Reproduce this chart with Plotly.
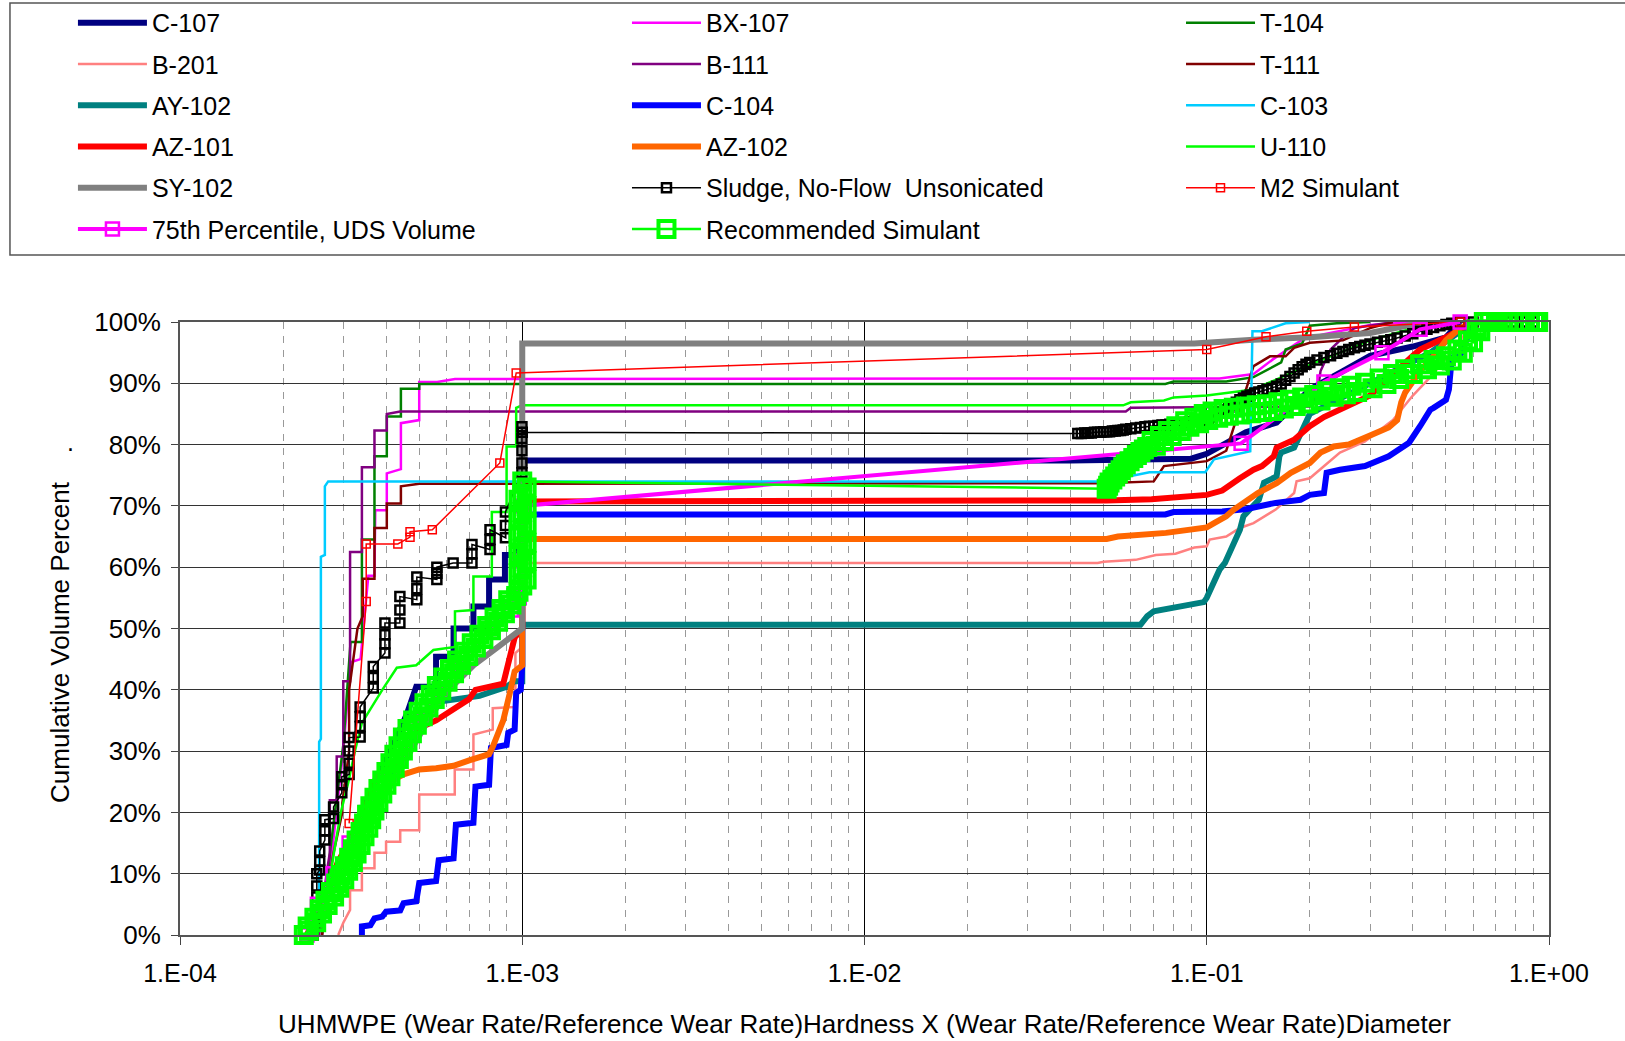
import plotly.graph_objects as go

# ---------------- data (x = wear-rate product, y = cumulative volume fraction) ----------------
C107_x = [2.4e-4, 2.7e-4, 3.0e-4, 3.4e-4, 3.8e-4, 4.2e-4, 4.6e-4, 4.9e-4, 5.6e-4, 5.6e-4, 6.3e-4, 6.3e-4, 7.2e-4, 7.2e-4, 8.0e-4, 8.0e-4, 8.9e-4, 8.9e-4, 9.6e-4, 1.0e-3, 1.0e-3, 0.04, 0.09, 0.1, 0.114, 0.13, 0.16, 0.2, 0.25, 0.3, 0.4, 0.5, 0.55]
C107_y = [0.0, 0.07, 0.13, 0.2, 0.26, 0.31, 0.36, 0.405, 0.405, 0.454, 0.454, 0.5, 0.5, 0.536, 0.536, 0.58, 0.58, 0.62, 0.62, 0.65, 0.774, 0.774, 0.777, 0.785, 0.803, 0.82, 0.836, 0.89, 0.92, 0.945, 0.96, 0.975, 1.0]

BX107_x = [2.6e-4, 2.8e-4, 3.0e-4, 3.15e-4, 3.37e-4, 3.55e-4, 3.70e-4, 3.72e-4, 4.02e-4, 4.02e-4, 4.42e-4, 4.42e-4, 5.0e-4, 5.0e-4, 5.64e-4, 6.36e-4, 0.109, 0.12, 0.137, 0.156, 0.19, 0.22, 0.3, 0.4]
BX107_y = [0.0, 0.15, 0.30, 0.445, 0.45, 0.586, 0.586, 0.693, 0.693, 0.753, 0.76, 0.835, 0.84, 0.902, 0.902, 0.907, 0.908, 0.911, 0.915, 0.939, 0.971, 0.98, 0.995, 1.0]

T104_x = [2.6e-4, 2.75e-4, 3.0e-4, 3.15e-4, 3.40e-4, 3.40e-4, 3.70e-4, 3.70e-4, 4.02e-4, 4.02e-4, 4.42e-4, 4.42e-4, 5.0e-4, 5.0e-4, 0.0757, 0.08, 0.114, 0.137, 0.165, 0.17, 0.19, 0.2, 0.24, 0.3]
T104_y = [0.0, 0.14, 0.31, 0.478, 0.478, 0.645, 0.645, 0.781, 0.781, 0.846, 0.846, 0.891, 0.891, 0.899, 0.899, 0.903, 0.903, 0.91, 0.934, 0.955, 0.965, 0.994, 0.998, 1.0]

B201_x = [2.9e-4, 3.0e-4, 3.14e-4, 3.14e-4, 3.4e-4, 3.4e-4, 3.7e-4, 3.7e-4, 4.0e-4, 4.0e-4, 4.4e-4, 4.4e-4, 5.0e-4, 5.0e-4, 6.35e-4, 6.35e-4, 7.2e-4, 7.2e-4, 8.2e-4, 8.2e-4, 9.55e-4, 9.55e-4, 1.0e-3, 1.0e-3, 0.048, 0.05, 0.062, 0.071, 0.081, 0.092, 0.1, 0.102, 0.114, 0.125, 0.137, 0.147, 0.159, 0.18, 0.183, 0.2, 0.22, 0.245, 0.29, 0.35, 0.4, 0.45, 0.5, 0.55, 0.6]
B201_y = [0.0, 0.02, 0.041, 0.073, 0.073, 0.109, 0.109, 0.134, 0.134, 0.152, 0.152, 0.171, 0.171, 0.229, 0.229, 0.27, 0.27, 0.327, 0.335, 0.37, 0.372, 0.46, 0.47, 0.607, 0.607, 0.609, 0.612, 0.62, 0.622, 0.632, 0.634, 0.645, 0.65, 0.664, 0.672, 0.683, 0.694, 0.721, 0.74, 0.745, 0.764, 0.787, 0.805, 0.84, 0.88, 0.91, 0.94, 0.97, 1.0]

B111_x = [2.55e-4, 2.68e-4, 2.74e-4, 2.74e-4, 2.87e-4, 2.87e-4, 3.0e-4, 3.0e-4, 3.14e-4, 3.14e-4, 3.40e-4, 3.40e-4, 3.70e-4, 3.70e-4, 4.02e-4, 4.02e-4, 4.4e-4, 0.058, 0.06, 0.2, 0.21, 0.215, 0.23, 0.25, 0.27, 0.35]
B111_y = [0.0, 0.10, 0.134, 0.22, 0.22, 0.291, 0.291, 0.414, 0.414, 0.625, 0.625, 0.763, 0.763, 0.823, 0.823, 0.85, 0.854, 0.854, 0.86, 0.862, 0.88, 0.92, 0.955, 0.975, 0.99, 1.0]

T111_x = [2.6e-4, 2.8e-4, 2.98e-4, 2.98e-4, 3.12e-4, 3.12e-4, 3.3e-4, 3.42e-4, 3.42e-4, 3.70e-4, 3.70e-4, 4.02e-4, 4.02e-4, 4.42e-4, 4.42e-4, 5.0e-4, 0.05, 0.07, 0.075, 0.1, 0.114, 0.125, 0.137, 0.153, 0.17, 0.18, 0.2, 0.25, 0.3, 0.35]
T111_y = [0.0, 0.13, 0.20, 0.215, 0.30, 0.40, 0.50, 0.52, 0.581, 0.581, 0.664, 0.664, 0.704, 0.704, 0.732, 0.736, 0.737, 0.74, 0.765, 0.773, 0.79, 0.86, 0.928, 0.944, 0.944, 0.958, 0.966, 0.97, 0.99, 1.0]

AY102_x = [2.4e-4, 2.6e-4, 2.9e-4, 3.25e-4, 3.65e-4, 4.1e-4, 4.6e-4, 5.1e-4, 5.6e-4, 6.6e-4, 7.5e-4, 9.0e-4, 9.5e-4, 1.0e-3, 1.0e-3, 0.064, 0.067, 0.07, 0.084, 0.098, 0.1, 0.109, 0.113, 0.125, 0.128, 0.137, 0.142, 0.147, 0.16, 0.163, 0.165, 0.18, 0.2, 0.3, 0.45, 0.6]
AY102_y = [0.0, 0.05, 0.1, 0.15, 0.2, 0.25, 0.3, 0.35, 0.38, 0.385, 0.39, 0.405, 0.414, 0.414, 0.506, 0.506, 0.52, 0.528, 0.536, 0.543, 0.55, 0.596, 0.607, 0.661, 0.683, 0.699, 0.71, 0.738, 0.748, 0.781, 0.787, 0.795, 0.85, 0.9, 0.95, 1.0]

C104_x = [3.4e-4, 3.4e-4, 3.6e-4, 3.7e-4, 3.9e-4, 4.0e-4, 4.4e-4, 4.5e-4, 4.9e-4, 5.0e-4, 5.6e-4, 5.7e-4, 6.3e-4, 6.4e-4, 7.2e-4, 7.3e-4, 8.0e-4, 8.1e-4, 9.0e-4, 9.1e-4, 9.5e-4, 9.6e-4, 9.9e-4, 1.0e-3, 1.0e-3, 0.0757, 0.08, 0.111, 0.131, 0.159, 0.188, 0.2, 0.22, 0.224, 0.245, 0.29, 0.34, 0.39, 0.42, 0.45, 0.46, 0.5, 0.51, 0.52, 0.52, 0.55, 0.56, 0.6]
C104_y = [0.0, 0.014, 0.016, 0.027, 0.03, 0.038, 0.04, 0.052, 0.055, 0.085, 0.088, 0.122, 0.125, 0.18, 0.183, 0.242, 0.245, 0.305, 0.31, 0.33, 0.335, 0.395, 0.40, 0.44, 0.686, 0.686, 0.69, 0.691, 0.695, 0.705, 0.71, 0.718, 0.721, 0.754, 0.759, 0.765, 0.781, 0.803, 0.83, 0.857, 0.86, 0.873, 0.89, 0.928, 0.942, 0.945, 0.955, 1.0]

C103_x = [2.52e-4, 2.55e-4, 2.55e-4, 2.58e-4, 2.58e-4, 2.65e-4, 2.65e-4, 2.71e-4, 0.05, 0.068, 0.099, 0.105, 0.134, 0.136, 0.145, 0.17, 0.2]
C103_y = [0.0, 0.05, 0.315, 0.32, 0.617, 0.62, 0.732, 0.74, 0.74, 0.755, 0.755, 0.776, 0.789, 0.985, 0.985, 0.998, 1.0]

AZ101_x = [2.35e-4, 2.6e-4, 2.9e-4, 3.35e-4, 3.4e-4, 3.75e-4, 4.0e-4, 4.45e-4, 4.5e-4, 4.9e-4, 5.6e-4, 6.3e-4, 7.0e-4, 7.3e-4, 8.8e-4, 9.5e-4, 1.0e-3, 1.0e-3, 0.049, 0.051, 0.069, 0.084, 0.1, 0.111, 0.12, 0.125, 0.137, 0.145, 0.157, 0.16, 0.18, 0.2, 0.22, 0.3, 0.4, 0.42, 0.5, 0.6]
AZ101_y = [0.0, 0.06, 0.12, 0.183, 0.193, 0.258, 0.27, 0.289, 0.313, 0.335, 0.35, 0.37, 0.385, 0.40, 0.41, 0.485, 0.50, 0.707, 0.707, 0.709, 0.711, 0.716, 0.718, 0.725, 0.74, 0.745, 0.759, 0.765, 0.781, 0.795, 0.808, 0.83, 0.845, 0.88, 0.945, 0.955, 0.975, 1.0]

AZ102_x = [2.45e-4, 2.8e-4, 3.2e-4, 3.6e-4, 3.95e-4, 4.1e-4, 4.5e-4, 5.0e-4, 5.6e-4, 6.3e-4, 7.0e-4, 8.0e-4, 8.2e-4, 8.8e-4, 9.2e-4, 9.5e-4, 1.0e-3, 1.0e-3, 0.051, 0.055, 0.076, 0.093, 0.1, 0.106, 0.114, 0.12, 0.128, 0.141, 0.16, 0.176, 0.2, 0.215, 0.235, 0.26, 0.3, 0.34, 0.36, 0.37, 0.38, 0.42, 0.47, 0.5, 0.55, 0.6]
AZ102_y = [0.0, 0.08, 0.15, 0.2, 0.225, 0.25, 0.262, 0.27, 0.272, 0.276, 0.285, 0.295, 0.307, 0.35, 0.395, 0.43, 0.44, 0.646, 0.646, 0.65, 0.656, 0.661, 0.665, 0.673, 0.683, 0.694, 0.705, 0.721, 0.737, 0.754, 0.77, 0.787, 0.797, 0.80, 0.815, 0.828, 0.84, 0.869, 0.885, 0.92, 0.95, 0.97, 0.99, 1.0]

U110_x = [2.5e-4, 2.75e-4, 2.95e-4, 3.1e-4, 3.25e-4, 3.4e-4, 3.9e-4, 4.3e-4, 4.9e-4, 5.5e-4, 6.36e-4, 6.36e-4, 7.2e-4, 7.2e-4, 8.15e-4, 8.15e-4, 9.0e-4, 9.0e-4, 9.6e-4, 9.6e-4, 1.0e-3, 0.057, 0.06, 0.075, 0.08, 0.1, 0.137, 0.2, 0.3, 0.4, 0.5]
U110_y = [0.0, 0.10, 0.2, 0.248, 0.302, 0.346, 0.40, 0.436, 0.44, 0.465, 0.47, 0.528, 0.53, 0.585, 0.585, 0.69, 0.69, 0.797, 0.797, 0.86, 0.864, 0.864, 0.869, 0.872, 0.877, 0.88, 0.89, 0.93, 0.97, 0.99, 1.0]

SY102_x = [2.45e-4, 2.65e-4, 2.95e-4, 3.3e-4, 3.7e-4, 4.2e-4, 4.7e-4, 5.3e-4, 6.1e-4, 7.2e-4, 8.5e-4, 9.5e-4, 1.0e-3, 1.0e-3, 0.092, 0.137, 0.2, 0.3, 0.4, 0.5]
SY102_y = [0.0, 0.05, 0.1, 0.15, 0.2, 0.25, 0.3, 0.35, 0.4, 0.44, 0.47, 0.49, 0.50, 0.965, 0.965, 0.971, 0.975, 0.982, 0.996, 1.0]

SLUDGE_x = [2.45e-4, 2.47e-4, 2.51e-4, 2.51e-4, 2.51e-4, 2.51e-4, 2.56e-4, 2.56e-4, 2.56e-4, 2.65e-4, 2.65e-4, 2.65e-4, 2.81e-4, 2.81e-4,
            2.97e-4, 2.97e-4, 2.97e-4, 3.12e-4, 3.12e-4, 3.12e-4, 3.12e-4, 3.36e-4, 3.36e-4, 3.36e-4, 3.36e-4, 3.67e-4, 3.67e-4, 3.67e-4,
            3.97e-4, 3.97e-4, 3.97e-4, 3.97e-4, 4.39e-4, 4.39e-4, 4.39e-4, 4.92e-4, 4.92e-4, 4.92e-4, 5.63e-4, 5.63e-4, 5.63e-4, 6.28e-4,
            7.13e-4, 7.13e-4, 7.13e-4, 8.05e-4, 8.05e-4, 8.05e-4, 8.93e-4, 8.93e-4, 8.93e-4, 9.98e-4, 9.98e-4, 9.98e-4, 9.98e-4, 9.98e-4, 1.0e-3,
            0.042, 0.043, 0.044, 0.045, 0.046, 0.047, 0.048, 0.049, 0.05, 0.051, 0.052, 0.053, 0.054, 0.055, 0.056, 0.057, 0.058,
            0.06, 0.062, 0.064, 0.066, 0.068, 0.07, 0.072, 0.074, 0.076, 0.078, 0.08, 0.083, 0.086, 0.089, 0.092, 0.095, 0.098,
            0.101, 0.104, 0.107, 0.11, 0.113, 0.116, 0.119, 0.122, 0.125, 0.128, 0.131, 0.134, 0.138, 0.142, 0.146, 0.15, 0.155,
            0.16, 0.165, 0.17, 0.175, 0.18, 0.185, 0.19, 0.195, 0.2, 0.21, 0.22, 0.23, 0.24, 0.25, 0.26, 0.27, 0.28, 0.29, 0.3,
            0.315, 0.33, 0.345, 0.36, 0.38, 0.4, 0.42, 0.44, 0.46, 0.48, 0.5, 0.52, 0.55, 0.6, 0.7, 0.75, 0.8, 0.85, 0.9]
SLUDGE_y = [0.0, 0.02, 0.04, 0.062, 0.08, 0.10, 0.106, 0.12, 0.137, 0.155, 0.17, 0.188, 0.19, 0.209,
            0.232, 0.245, 0.258, 0.262, 0.28, 0.30, 0.322, 0.323, 0.34, 0.356, 0.372, 0.403, 0.42, 0.438,
            0.46, 0.475, 0.49, 0.509, 0.509, 0.53, 0.552, 0.547, 0.565, 0.584, 0.58, 0.59, 0.60, 0.607,
            0.607, 0.622, 0.637, 0.629, 0.645, 0.661, 0.648, 0.668, 0.69, 0.754, 0.77, 0.79, 0.81, 0.829, 0.82,
            0.818, 0.818, 0.819, 0.819, 0.819, 0.82, 0.82, 0.82, 0.821, 0.821, 0.821, 0.822, 0.822, 0.823, 0.823, 0.824, 0.825,
            0.826, 0.827, 0.828, 0.829, 0.83, 0.83, 0.831, 0.832, 0.832, 0.833, 0.834, 0.835, 0.836, 0.837, 0.838, 0.839, 0.84,
            0.842, 0.845, 0.849, 0.853, 0.857, 0.861, 0.865, 0.869, 0.873, 0.876, 0.879, 0.881, 0.884, 0.886, 0.888, 0.89, 0.892,
            0.895, 0.899, 0.905, 0.911, 0.917, 0.922, 0.927, 0.931, 0.934, 0.938, 0.942, 0.945, 0.949, 0.952, 0.955, 0.958, 0.96, 0.962, 0.964,
            0.967, 0.969, 0.971, 0.974, 0.977, 0.981, 0.985, 0.988, 0.991, 0.994, 0.996, 0.998, 1.0, 1.0, 1.0, 1.0, 1.0, 1.0, 1.0]

M2_x = [3.12e-4, 3.50e-4, 3.50e-4, 4.33e-4, 4.70e-4, 4.70e-4, 5.46e-4, 8.6e-4, 9.6e-4, 0.1, 0.149, 0.196, 0.27, 0.55]
M2_y = [0.182, 0.544, 0.638, 0.638, 0.649, 0.658, 0.661, 0.77, 0.917, 0.955, 0.976, 0.985, 0.992, 1.0]

P75_x = [2.35e-4, 2.52e-4, 2.8e-4, 3.12e-4, 3.5e-4, 3.95e-4, 4.45e-4, 5.0e-4, 5.75e-4, 6.7e-4, 8.0e-4, 9.3e-4, 9.8e-4, 9.8e-4, 1.0e-3, 0.126, 0.22, 0.325, 0.42, 0.55]
P75_y = [0.0, 0.05, 0.1, 0.15, 0.2, 0.25, 0.3, 0.35, 0.4, 0.45, 0.5, 0.53, 0.55, 0.61, 0.70, 0.802, 0.902, 0.95, 0.988, 1.0]

REC_x = [2.30e-4, 2.38e-4, 2.36e-4, 2.50e-4, 2.47e-4, 2.60e-4, 2.56e-4, 2.70e-4, 2.66e-4, 2.82e-4, 2.76e-4, 2.92e-4, 2.86e-4, 3.02e-4,
         2.95e-4, 3.10e-4, 3.03e-4, 3.20e-4, 3.12e-4, 3.28e-4, 3.20e-4, 3.37e-4, 3.28e-4, 3.46e-4, 3.37e-4, 3.55e-4, 3.45e-4, 3.62e-4,
         3.52e-4, 3.70e-4, 3.60e-4, 3.80e-4, 3.70e-4, 3.90e-4, 3.80e-4, 4.01e-4, 3.90e-4, 4.12e-4, 4.01e-4, 4.24e-4, 4.12e-4, 4.36e-4,
         4.23e-4, 4.48e-4, 4.35e-4, 4.62e-4, 4.48e-4, 4.76e-4, 4.62e-4, 4.92e-4, 4.80e-4, 5.12e-4, 4.98e-4, 5.32e-4, 5.18e-4, 5.55e-4,
         5.40e-4, 5.80e-4, 5.63e-4, 6.05e-4, 5.88e-4, 6.32e-4, 6.15e-4, 6.62e-4, 6.45e-4, 6.95e-4, 6.78e-4, 7.32e-4, 7.12e-4, 7.70e-4,
         7.50e-4, 8.10e-4, 7.90e-4, 8.50e-4, 8.30e-4, 8.90e-4, 8.70e-4, 9.30e-4, 9.10e-4, 9.60e-4,
         9.75e-4, 1.0e-3, 1.03e-3, 9.75e-4, 1.0e-3, 1.03e-3, 9.75e-4, 1.0e-3, 1.03e-3, 9.75e-4, 1.0e-3, 1.03e-3, 9.75e-4, 1.0e-3,
         1.03e-3, 9.75e-4, 1.0e-3, 1.03e-3, 1.0e-3,
         0.0510, 0.0515, 0.052, 0.053, 0.054, 0.055, 0.056, 0.057, 0.058, 0.0595, 0.061, 0.0625, 0.064, 0.0655, 0.067, 0.069,
         0.071, 0.073, 0.075, 0.077, 0.079, 0.0815, 0.084, 0.0865, 0.089, 0.092, 0.095, 0.098, 0.101, 0.104, 0.108, 0.112, 0.116,
         0.12, 0.125, 0.13, 0.135, 0.14, 0.145, 0.15, 0.156, 0.162, 0.168, 0.175, 0.182, 0.19, 0.198, 0.206, 0.215, 0.225, 0.235,
         0.245, 0.255, 0.265, 0.275, 0.29, 0.305, 0.32, 0.335, 0.35, 0.365, 0.38, 0.4, 0.42, 0.44, 0.46, 0.48, 0.5, 0.52, 0.54,
         0.56, 0.58, 0.6, 0.615, 0.63, 0.645, 0.67, 0.7, 0.73, 0.76, 0.79, 0.82, 0.85, 0.88, 0.91, 0.93]
REC_y = [0.000, 0.007, 0.014, 0.021, 0.028, 0.035, 0.042, 0.049, 0.056, 0.063, 0.070, 0.077, 0.084, 0.091,
         0.098, 0.105, 0.112, 0.119, 0.126, 0.133, 0.140, 0.147, 0.154, 0.161, 0.168, 0.175, 0.182, 0.189,
         0.196, 0.203, 0.210, 0.217, 0.224, 0.231, 0.238, 0.245, 0.252, 0.259, 0.266, 0.273, 0.280, 0.287,
         0.294, 0.301, 0.308, 0.315, 0.322, 0.329, 0.336, 0.343, 0.350, 0.357, 0.364, 0.371, 0.378, 0.385,
         0.392, 0.399, 0.406, 0.413, 0.420, 0.427, 0.434, 0.441, 0.448, 0.455, 0.462, 0.469, 0.476, 0.483,
         0.490, 0.497, 0.504, 0.511, 0.518, 0.525, 0.532, 0.539, 0.546, 0.553,
         0.56, 0.57, 0.58, 0.59, 0.60, 0.61, 0.62, 0.63, 0.64, 0.65, 0.66, 0.67, 0.68, 0.69,
         0.70, 0.71, 0.72, 0.73, 0.74,
         0.728, 0.733, 0.738, 0.743, 0.748, 0.753, 0.758, 0.763, 0.768, 0.773, 0.778, 0.783, 0.788, 0.792, 0.796, 0.806,
         0.798, 0.814, 0.806, 0.822, 0.814, 0.830, 0.822, 0.838, 0.829, 0.844, 0.835, 0.850, 0.840, 0.854, 0.844, 0.858, 0.847,
         0.860, 0.849, 0.862, 0.851, 0.864, 0.853, 0.866, 0.855, 0.869, 0.859, 0.873, 0.863, 0.877, 0.867, 0.881, 0.872, 0.887, 0.878,
         0.892, 0.882, 0.896, 0.886, 0.901, 0.892, 0.908, 0.899, 0.915, 0.907, 0.923, 0.915, 0.931, 0.923, 0.938, 0.929, 0.944, 0.937, 0.955,
         0.950, 0.970, 0.967, 0.988, 0.985, 1.0, 1.0, 1.0, 1.0, 1.0, 1.0, 1.0, 1.0, 1.0, 1.0, 1.0]

X_TICKS = [1e-4, 1e-3, 1e-2, 1e-1, 1.0]
X_TICKTEXT = ["1.E-04", "1.E-03", "1.E-02", "1.E-01", "1.E+00"]
Y_TICKS = [i / 10 for i in range(11)]

FONT = "Liberation Sans, Arial, sans-serif"

fig = go.Figure()


def add_line(name, x, y, color, width, legend):
    fig.add_trace(go.Scatter(x=x, y=y, mode="lines", name=name, legend=legend, legendgroup=name,
                             line=dict(color=color, width=width)))


def add_marked(name, x, y, color, width, msize, mwidth, legend):
    fig.add_trace(go.Scatter(x=x, y=y, mode="lines+markers", name=name, legend=legend, legendgroup=name,
                             line=dict(color=color, width=width), cliponaxis=False,
                             marker=dict(symbol="square-open", size=msize, color=color,
                                         line=dict(width=mwidth, color=color))))


add_line("C-107", C107_x, C107_y, "#000080", 6, "legend")
add_line("BX-107", BX107_x, BX107_y, "#FF00FF", 2.5, "legend2")
add_line("T-104", T104_x, T104_y, "#008000", 2.5, "legend3")
add_line("B-201", B201_x, B201_y, "#FF8080", 2.5, "legend")
add_line("B-111", B111_x, B111_y, "#800080", 2.5, "legend2")
add_line("T-111", T111_x, T111_y, "#800000", 2.5, "legend3")
add_line("AY-102", AY102_x, AY102_y, "#008080", 6, "legend")
add_line("C-104", C104_x, C104_y, "#0000FF", 6, "legend2")
add_line("C-103", C103_x, C103_y, "#00CCFF", 2.5, "legend3")
add_line("AZ-101", AZ101_x, AZ101_y, "#FF0000", 6, "legend")
add_line("AZ-102", AZ102_x, AZ102_y, "#FF6600", 6, "legend2")
add_line("U-110", U110_x, U110_y, "#00FF00", 2.5, "legend3")
add_line("SY-102", SY102_x, SY102_y, "#808080", 6, "legend")
add_marked("Sludge, No-Flow  Unsonicated", SLUDGE_x, SLUDGE_y, "#000000", 1.5, 9, 2.5, "legend2")
add_marked("M2 Simulant", M2_x, M2_y, "#FF0000", 1.5, 8, 1.5, "legend3")
add_marked("75th Percentile, UDS Volume", P75_x, P75_y, "#FF00FF", 4, 13, 2.5, "legend")
add_marked("Recommended Simulant", REC_x, REC_y, "#00FF00", 2.5, 16, 4, "legend2")

minor_vals = [m * 10 ** e for e in range(-4, 0) for m in range(2, 10)]

leg_common = dict(xanchor="left", yanchor="top", y=1.5253, bgcolor="rgba(0,0,0,0)", borderwidth=0,
                  font=dict(family=FONT, size=25, color="black"), itemwidth=69, tracegroupgap=5.75,
                  orientation="v")

fig.update_layout(
    width=1625, height=1041,
    margin=dict(l=180, r=76, t=322, b=106, autoexpand=False),
    paper_bgcolor="white", plot_bgcolor="white",
    font=dict(family=FONT, size=25, color="black"),
    showlegend=True,
    legend=dict(x=-0.0782, **leg_common),
    legend2=dict(x=0.3265, **leg_common),
    legend3=dict(x=0.7312, **leg_common),
    xaxis=dict(type="log", range=[-4, 0], tickmode="array", tickvals=X_TICKS, ticktext=X_TICKTEXT,
               showgrid=True, gridcolor="#000000", gridwidth=1, zeroline=False,
               ticks="outside", ticklen=8, tickcolor="#444", tickwidth=1, ticklabelstandoff=7,
               showline=True, linecolor="#555", linewidth=2, mirror=True,
               minor=dict(tickmode="array", tickvals=minor_vals, showgrid=True, gridcolor="#999999",
                          griddash="7px,7px", gridwidth=1, ticks=""),
               tickfont=dict(family=FONT, size=25),
               title=dict(text="UHMWPE (Wear Rate/Reference Wear Rate)Hardness X (Wear Rate/Reference Wear Rate)Diameter",
                          font=dict(family=FONT, size=26), standoff=29)),
    yaxis=dict(range=[0, 1], tickmode="array", tickvals=Y_TICKS, tickformat=".0%",
               showgrid=True, gridcolor="#333333", gridwidth=1, zeroline=False,
               ticks="outside", ticklen=7, tickcolor="#444", ticklabelstandoff=5,
               showline=True, linecolor="#555", linewidth=2, mirror=True,
               tickfont=dict(family=FONT, size=26)),
    shapes=[dict(type="rect", xref="paper", yref="paper", x0=-0.1242, x1=1.2, y0=1.1093, y1=1.5204,
                 line=dict(color="#555555", width=1.5), fillcolor="rgba(0,0,0,0)", layer="below")],
    annotations=[
        dict(text="Cumulative Volume Percent", xref="paper", yref="paper", x=-0.0877, y=0.478,
             textangle=-90, showarrow=False, xanchor="center", yanchor="middle",
             font=dict(family=FONT, size=26, color="black")),
        dict(text=".", xref="paper", yref="paper", x=-0.0842, y=0.831, showarrow=False,
             font=dict(family=FONT, size=25, color="black")),
    ],
)

fig.write_html("out.html")
